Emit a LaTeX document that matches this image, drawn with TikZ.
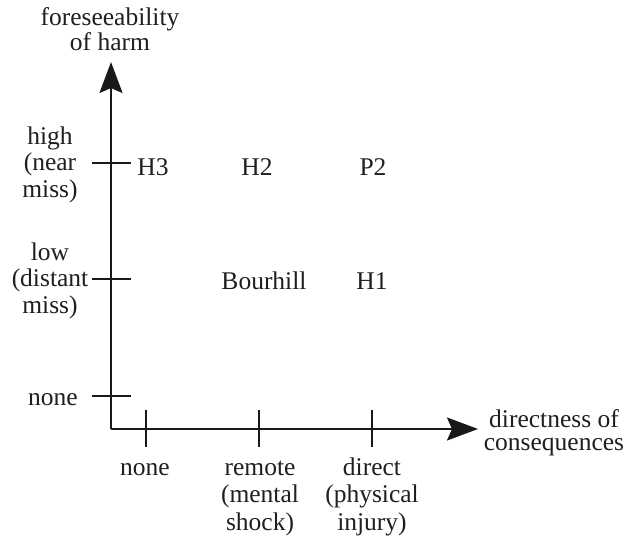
\documentclass[tikz,border=0pt]{standalone}
\usepackage{fontspec}
\setmainfont{Liberation Serif}
\usetikzlibrary{arrows.meta}
\begin{document}
\begin{tikzpicture}[x=1pt,y=-1pt,
  axisline/.style={line width=2pt, draw=black!90, -{Stealth[length=31pt,width=23pt,inset=5pt]}},
  tickline/.style={line width=2pt, draw=black!90},
  lbl/.style={font=\fontsize{25.5}{#1}\selectfont, inner sep=0pt, align=center, text=black!88, anchor=base},
  lbl/.default=27,
]
\useasboundingbox (0,0) rectangle (627,538);

% axes
\coordinate (O) at (111,429);
\coordinate (ytip) at (111,62);
\coordinate (xtip) at (478,429);
\draw[axisline] (O) -- (ytip);
\draw[axisline] (O) -- (xtip);

% ticks on the vertical axis
\foreach \n/\y in {high/163, low/279, none/396} {
  \coordinate (y\n L) at (92,\y);
  \coordinate (y\n R) at (131,\y);
  \draw[tickline] (y\n L) -- (y\n R);
}
% ticks on the horizontal axis
\foreach \n/\x in {none/146, remote/259, direct/372} {
  \coordinate (x\n T) at (\x,410);
  \coordinate (x\n B) at (\x,447);
  \draw[tickline] (x\n T) -- (x\n B);
}

% axis titles (multi-line nodes sit on the baseline of their last line)
\node[lbl=25] (ytitle) at (110,50) {foreseeability\\of harm};
\node[lbl=23] (xtitle) at (554,450) {directness of\\consequences};

% vertical axis labels
\node[lbl=26.5] (lhigh) at (50,197) {high\\(near\\miss)};
\node[lbl=26.5] (llow) at (50,313) {low\\(distant\\miss)};
\node[lbl] (lnone) at (53,405) {none};

% horizontal axis labels
\node[lbl] (bnone) at (145,475) {none};
\node[lbl=27.5] (bremote) at (260,530) {remote\\(mental\\shock)};
\node[lbl=27.5] (bdirect) at (372,530) {direct\\(physical\\injury)};

% cases
\node[lbl] (H3) at (153,175) {H3};
\node[lbl] (H2) at (257,175) {H2};
\node[lbl] (P2) at (373,175) {P2};
\node[lbl] (Bourhill) at (264,289) {Bourhill};
\node[lbl] (H1) at (372,289) {H1};
\end{tikzpicture}
\end{document}
